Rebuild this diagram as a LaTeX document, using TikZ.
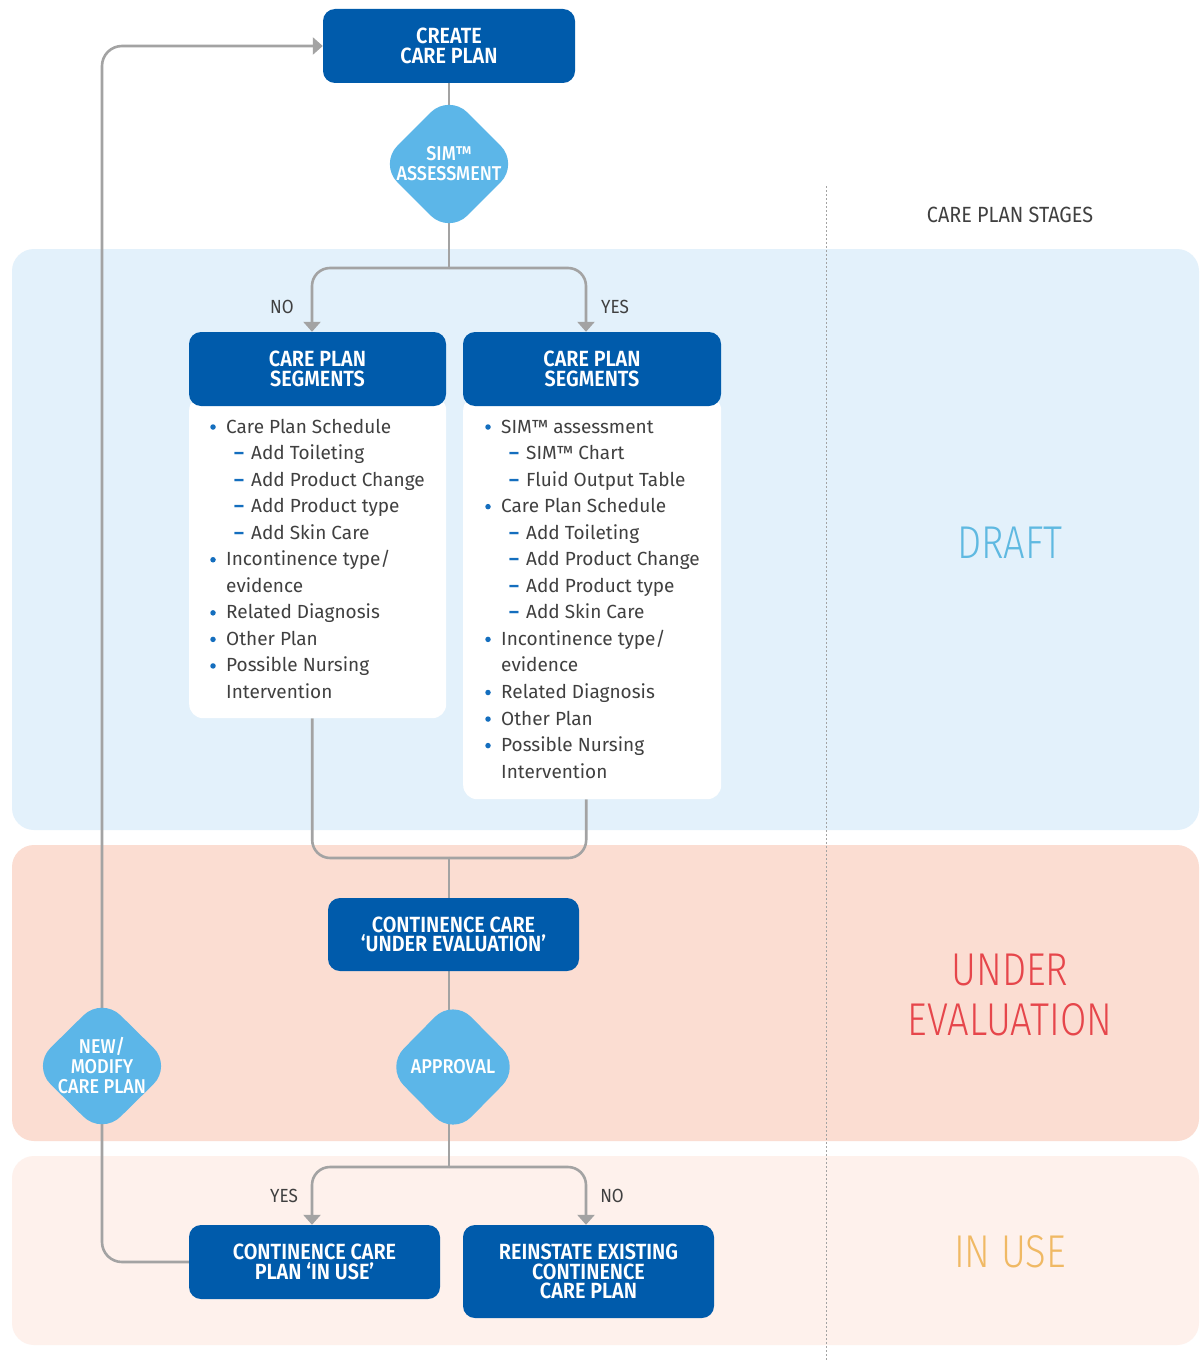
\documentclass[tikz,border=0pt]{standalone}
\usepackage{fontspec}
\setmainfont{Fira Sans}
\newfontfamily\cond[FakeStretch=0.9]{Fira Sans}
\newfontfamily\condsb[FakeStretch=0.9]{Fira Sans SemiBold}
\newfontfamily\condmd[FakeStretch=0.9]{Fira Sans Medium}
\newfontfamily\stagefont[FakeStretch=0.83]{Fira Sans Light}
\usetikzlibrary{shapes.geometric,arrows.meta}
\definecolor{dblue}{RGB}{0,91,171}
\definecolor{lblue}{RGB}{92,182,232}
\definecolor{draftbg}{RGB}{227,241,251}
\definecolor{evalbg}{RGB}{251,221,210}
\definecolor{usebg}{RGB}{254,241,236}
\definecolor{conncol}{RGB}{163,163,163}
\definecolor{txt}{RGB}{64,64,64}
\definecolor{bulcol}{RGB}{20,110,190}
\definecolor{draftc}{RGB}{95,185,225}
\definecolor{evalc}{RGB}{230,70,75}
\definecolor{usec}{RGB}{240,185,100}
\pgfdeclarelayer{bands}
\pgfdeclarelayer{conns}
\pgfsetlayers{bands,conns,main}
\newcommand\bitem[4]{\node[dot] (#1b) at (#2+4,427+26.55*#3) {};
  \node[li,anchor=base west] (#1) at (#2+17,433+26.55*#3) {#4};}
\newcommand\ditem[4]{\node[bul,anchor=base west] (#1b) at (#2+25,433+26.55*#3) {–};
  \node[li,anchor=base west] (#1) at (#2+42,433+26.55*#3) {#4};}
\newcommand\citem[4]{\node[li,anchor=base west] (#1) at (#2+17,433+26.55*#3) {#4};}
\begin{document}
\begin{tikzpicture}[x=1pt,y=-1pt,
  box/.style={rectangle, rounded corners=12pt, fill=dblue, text=white, align=center, inner sep=0pt,
    font=\condsb\fontsize{22}{19.5}\selectfont},
  dia/.style={diamond, aspect=1, fill=lblue, rounded corners=26pt, inner sep=0pt},
  diatext/.style={text=white, align=center, inner sep=0pt, font=\condmd\fontsize{20}{20}\selectfont},
  panel/.style={rectangle, fill=white, rounded corners=14pt, inner sep=0pt},
  conn/.style={draw=conncol, line width=2.6pt},
  arr/.style={conn, -{Triangle[width=17pt,length=10pt]}},
  lbl/.style={text=txt, inner sep=0pt, font=\cond\fontsize{19}{19}\selectfont},
  li/.style={text=txt, inner sep=0pt, font=\fontsize{19}{19}\selectfont},
  bul/.style={text=bulcol, inner sep=0pt, font=\bfseries\fontsize{19}{19}\selectfont},
  dot/.style={circle, fill=bulcol, minimum size=5.5pt, inner sep=0pt},
  stage/.style={align=center, inner sep=0pt, font=\stagefont\fontsize{46}{50}\selectfont}
]
\useasboundingbox (0,0) rectangle (1199,1362);
\begin{pgfonlayer}{bands}
\fill[white] (0,0) rectangle (1199,1362);
\fill[draftbg, rounded corners=22pt] (12,249) rectangle (1199,830);
\fill[evalbg, rounded corners=22pt] (12,845) rectangle (1199,1141);
\fill[usebg, rounded corners=22pt] (12,1156) rectangle (1199,1345);
\draw[conncol, line width=1pt, dash pattern=on 1.5pt off 2.5pt] (826,186) -- (826,1362);
\end{pgfonlayer}

% nodes
\node[box, minimum width=252pt, minimum height=74pt] (create) at (449,46) {CREATE\\CARE PLAN};
\node[dia, minimum width=140pt, minimum height=140pt] (sim) at (449,164) {};
\node[diatext] (simt) at (sim.center) {SIM™\\ASSESSMENT};

\node[panel, minimum width=257pt, minimum height=322pt, anchor=north west] (panL) at (189,396) {};
\node[panel, minimum width=258pt, minimum height=403pt, anchor=north west] (panR) at (463,396) {};
\node[box, minimum width=257pt, minimum height=74pt] (segL) at (317.5,369) {CARE PLAN\\SEGMENTS};
\node[box, minimum width=258pt, minimum height=74pt] (segR) at (592,369) {CARE PLAN\\SEGMENTS};

\node[lbl] (noA) at (282,307) {NO};
\node[lbl] (yesA) at (615,307) {YES};

% left list
\bitem{L1}{209}{0}{Care Plan Schedule}
\ditem{L2}{209}{1}{Add Toileting}
\ditem{L3}{209}{2}{Add Product Change}
\ditem{L4}{209}{3}{Add Product type}
\ditem{L5}{209}{4}{Add Skin Care}
\bitem{L6}{209}{5}{Incontinence type/}
\citem{L7}{209}{6}{evidence}
\bitem{L8}{209}{7}{Related Diagnosis}
\bitem{L9}{209}{8}{Other Plan}
\bitem{L10}{209}{9}{Possible Nursing}
\citem{L11}{209}{10}{Intervention}
% right list
\bitem{R1}{484}{0}{SIM™ assessment}
\ditem{R2}{484}{1}{SIM™ Chart}
\ditem{R3}{484}{2}{Fluid Output Table}
\bitem{R4}{484}{3}{Care Plan Schedule}
\ditem{R5}{484}{4}{Add Toileting}
\ditem{R6}{484}{5}{Add Product Change}
\ditem{R7}{484}{6}{Add Product type}
\ditem{R8}{484}{7}{Add Skin Care}
\bitem{R9}{484}{8}{Incontinence type/}
\citem{R10}{484}{9}{evidence}
\bitem{R11}{484}{10}{Related Diagnosis}
\bitem{R12}{484}{11}{Other Plan}
\bitem{R13}{484}{12}{Possible Nursing}
\citem{R14}{484}{13}{Intervention}

\node[box, minimum width=251pt, minimum height=73pt] (ueval) at (453.5,934.5) {CONTINENCE CARE\\‘UNDER EVALUATION’};
\node[dia, minimum width=135pt, minimum height=137pt] (appr) at (453,1067) {};
\node[diatext] (apprt) at (appr.center) {APPROVAL};
\node[dia, minimum width=140pt, minimum height=138pt] (newmod) at (102,1066) {};
\node[diatext] (newmodt) at (newmod.center) {NEW/\\MODIFY\\CARE PLAN};

\node[lbl] (yesB) at (284,1196) {YES};
\node[lbl] (noB) at (612,1196) {NO};
\node[box, minimum width=251pt, minimum height=74pt] (inuse) at (314.5,1262) {CONTINENCE CARE\\PLAN ‘IN USE’};
\node[box, minimum width=251pt, minimum height=93pt] (reinst) at (588.5,1271.5) {REINSTATE EXISTING\\CONTINENCE\\CARE PLAN};

% stage labels
\node[text=txt, inner sep=0pt, font=\cond\fontsize{22}{22}\selectfont] (stg) at (1010,215) {CARE PLAN STAGES};
\node[stage, text=draftc] (draft) at (1010,543) {DRAFT};
\node[stage, text=evalc] (evalst) at (1010,995) {UNDER\\EVALUATION};
\node[stage, text=usec] (usest) at (1010,1252) {IN USE};

% connectors
\coordinate (j1) at (449,268);
\coordinate (j2) at (449,858);
\coordinate (j3) at (449,1167);
\begin{pgfonlayer}{conns}
\draw[conn] (create.center) -- (j1);
\draw[arr, rounded corners=18pt] (j1) -| ([xshift=-5.5pt]segL.north);
\draw[arr, rounded corners=18pt] (j1) -| ([xshift=-6pt]segR.north);
\draw[conn, rounded corners=18pt] ([xshift=-5.5pt]panL.south) |- (j2);
\draw[conn, rounded corners=18pt] ([xshift=-6pt]panR.south) |- (j2);
\draw[conn] (j2) -- (appr.center -| j2);
\draw[conn] (appr.center -| j3) -- (j3);
\draw[arr, rounded corners=18pt] (j3) -| ([xshift=-2.5pt]inuse.north);
\draw[arr, rounded corners=18pt] (j3) -| ([xshift=-2.5pt]reinst.north);
\draw[conn, rounded corners=20pt] (inuse.center) -| (newmod.center);
\draw[arr, rounded corners=20pt] (newmod.center) |- (create.west);
\end{pgfonlayer}
\end{tikzpicture}
\end{document}
